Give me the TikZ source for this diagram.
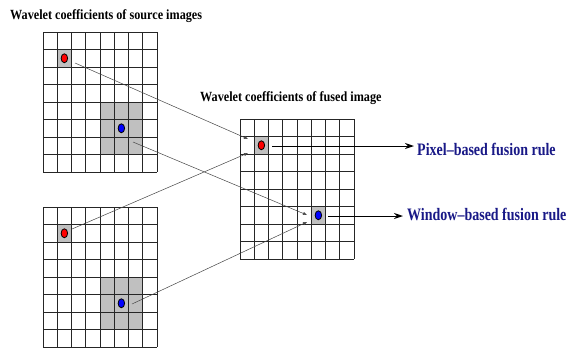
\documentclass[tikz,border=0pt]{standalone}
\usepackage{fontspec}
\setmainfont{Liberation Serif}
\newfontfamily\titlefont[FakeStretch=0.87]{Liberation Serif}
\newfontfamily\labfont[FakeStretch=0.80]{Liberation Serif}
\usetikzlibrary{arrows.meta,shapes.geometric}
\definecolor{labblue}{RGB}{25,25,135}
\definecolor{cellgray}{RGB}{192,192,192}
\definecolor{linkgray}{RGB}{70,70,70}
\tikzset{
  gridl/.style={line width=1pt,black!85},
  dotred/.style={ellipse,draw=black,line width=0.8pt,fill=red,minimum width=6.5pt,minimum height=9pt,inner sep=0pt},
  dotblue/.style={ellipse,draw=black,line width=0.8pt,fill=blue,minimum width=6.5pt,minimum height=9pt,inner sep=0pt},
  link/.style={line width=0.5pt,linkgray,-{Triangle[length=4pt,width=3pt]}},
  rulearrow/.style={line width=1pt,black,-{Stealth[length=9pt,width=6pt,inset=3pt]}},
  titletext/.style={font=\titlefont\bfseries\fontsize{14}{16}\selectfont,inner sep=0pt,anchor=base west},
  labtext/.style={font=\labfont\bfseries\fontsize{17.5}{20}\selectfont,text=labblue,inner sep=0pt,anchor=base west}
}
\newcommand\wgrid[2]{%
  \draw[gridl] \foreach \i in {0,...,8} {({#1+\i*14.25},#2) -- ({#1+\i*14.25},{#2+140})}
               \foreach \j in {0,...,8} {(#1,{#2+\j*17.5}) -- ({#1+114},{#2+\j*17.5})};
}
\begin{document}
\begin{tikzpicture}[x=1pt,y=-1pt]
\useasboundingbox[fill=white] (0,0) rectangle (569,349);

% gray fills
\fill[cellgray] ({43+14.25},{32+17.5}) rectangle +(14.25,17.5);
\fill[cellgray] ({43+4*14.25},{32+4*17.5}) rectangle +(42.75,52.5);
\fill[cellgray] ({43+14.25},{207+17.5}) rectangle +(14.25,17.5);
\fill[cellgray] ({43+4*14.25},{207+4*17.5}) rectangle +(42.75,52.5);
\fill[cellgray] ({240+14.25},{119+17.5}) rectangle +(14.25,17.5);
\fill[cellgray] ({240+5*14.25},{119+5*17.5}) rectangle +(14.25,17.5);

% grids
\wgrid{43}{32}
\wgrid{43}{207}
\wgrid{240}{119}

% dots
\node[dotred]  (r1) at ({43+1.5*14.25},{32+1.5*17.5}) {};
\node[dotblue] (b1) at ({43+5.5*14.25},{32+5.5*17.5}) {};
\node[dotred]  (r2) at ({43+1.5*14.25},{207+1.5*17.5}) {};
\node[dotblue] (b2) at ({43+5.5*14.25},{207+5.5*17.5}) {};
\node[dotred]  (rf) at ({240+1.5*14.25},{119+1.5*17.5}) {};
\node[dotblue] (bf) at ({240+5.5*14.25},{119+5.5*17.5}) {};

% titles
\node[titletext] (t1) at (10,19) {Wavelet coefficients of source images};
\node[titletext] (t2) at (200,101) {Wavelet coefficients of fused image};

% labels
\node[labtext] (pix) at (417,155) {Pixel–based fusion rule};
\node[labtext] (win) at (407,220) {Window–based fusion rule};

% connector end points
\coordinate (s1) at (75,63);
\coordinate (e1) at (248,139);
\coordinate (s2) at (72,229);
\coordinate (e2) at (248,153);
\coordinate (s3) at (133,142);
\coordinate (e3) at (307,215);
\coordinate (s4) at (132,304);
\coordinate (e4) at (307,222);
\coordinate (ps) at (272,146);
\coordinate (pe) at (414,146);
\coordinate (ws) at (328,216);
\coordinate (we) at (403,216);

\draw[link] (s1) -- (e1);
\draw[link] (s2) -- (e2);
\draw[link] (s3) -- (e3);
\draw[link] (s4) -- (e4);
\draw[rulearrow] (ps) -- (pe);
\draw[rulearrow] (ws) -- (we);
\end{tikzpicture}
\end{document}
